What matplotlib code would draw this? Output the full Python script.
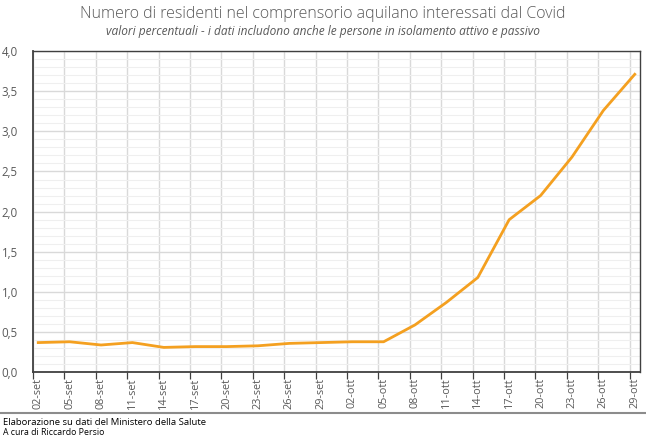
import matplotlib
matplotlib.use("Agg")
import matplotlib.pyplot as plt
from matplotlib.ticker import FixedLocator, MultipleLocator, FuncFormatter
from matplotlib.lines import Line2D

# ---- data ----
dates = ["02-set", "05-set", "08-set", "11-set", "14-set", "17-set", "20-set",
         "23-set", "26-set", "29-set", "02-ott", "05-ott", "08-ott", "11-ott",
         "14-ott", "17-ott", "20-ott", "23-ott", "26-ott", "29-ott"]
day_index = [0, 3, 6, 9, 12, 15, 18, 21, 24, 27, 30, 33, 36, 39, 42, 45, 48, 51, 54, 57]
values = [0.37, 0.38, 0.34, 0.37, 0.31, 0.32, 0.32, 0.33, 0.36, 0.37,
          0.38, 0.38, 0.59, 0.87, 1.18, 1.90, 2.20, 2.68, 3.26, 3.71]

title = "Numero di residenti nel comprensorio aquilano interessati dal Covid"
subtitle = "valori percentuali - i dati includono anche le persone in isolamento attivo e passivo"
note1 = "Elaborazione su dati del Ministero della Salute"
note2 = "A cura di Riccardo Persio"

plt.rcParams['font.family'] = ['Open Sans', 'DejaVu Sans']

fig = plt.figure(figsize=(6.46, 4.44), dpi=100)
ax = fig.add_axes([33/646, 1 - 372.3/444, (640 - 33)/646, (372.3 - 51)/444])

ax.plot(day_index, values, color='#F4A020', lw=2.0, solid_joinstyle='round', zorder=3)

ax.set_xlim(-0.5, 57.5)
ax.set_ylim(0, 4.0)

# x: labels at day centers, ticks/grid at boundaries
ax.xaxis.set_major_locator(FixedLocator(day_index))
ax.set_xticklabels(dates, rotation=90, fontsize=7.8, color='#595959')
ax.tick_params(axis='x', which='major', length=0, pad=4)
ax.xaxis.set_minor_locator(FixedLocator([d - 0.5 for d in day_index]))
ax.tick_params(axis='x', which='minor', length=5, width=0.9, color='#404040', direction='out')
ax.grid(axis='x', which='minor', color='#d9d9d9', lw=1.0, zorder=0)

# y
ax.yaxis.set_major_locator(MultipleLocator(0.5))
ax.yaxis.set_minor_locator(MultipleLocator(0.1))
ax.yaxis.set_major_formatter(FuncFormatter(lambda v, p: f"{v:.1f}".replace('.', ',')))
ax.tick_params(axis='y', which='both', length=0, pad=11, labelsize=8.3, labelcolor='#595959')
ax.grid(axis='y', which='major', color='#d9d9d9', lw=1.0, zorder=0)
ax.grid(axis='y', which='minor', color='#efefef', lw=0.8, zorder=0)
ax.set_axisbelow(True)

for s in ax.spines.values():
    s.set_color('#404040')
    s.set_linewidth(1.0)
ax.spines['left'].set_linewidth(1.3)
ax.spines['bottom'].set_linewidth(1.3)

fig.text(0.5, 1 - 14/444, title, ha='center', va='center', fontsize=11.5,
         color='#595959', fontweight='light')
fig.text(0.5, 1 - 31/444, subtitle, ha='center', va='center', fontsize=8.6,
         color='#595959', style='italic')

fig.add_artist(Line2D([0, 645/646], [1 - 413/444, 1 - 413/444],
                      transform=fig.transFigure, color='#8c8c8c', lw=1.5))
fig.text(3/646, 1 - 422/444, note1, ha='left', va='center', fontsize=6.8, color='#000000')
fig.text(3/646, 1 - 432.5/444, note2, ha='left', va='center', fontsize=6.3, color='#000000')

fig.savefig("out.png", dpi=100, facecolor='white')
